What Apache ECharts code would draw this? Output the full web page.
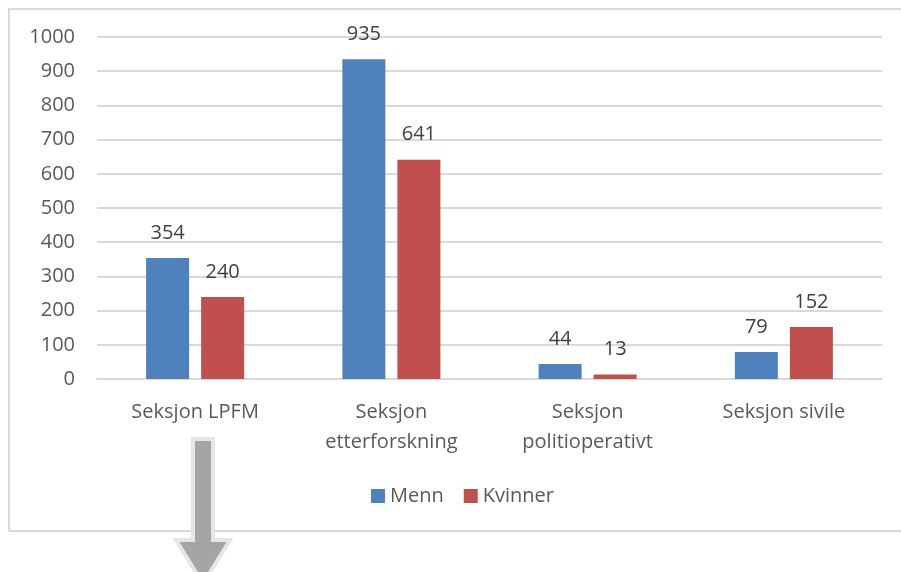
<!DOCTYPE html>
<html>
<head>
<meta charset="utf-8">
<script src="https://cdn.jsdelivr.net/npm/echarts@6/dist/echarts.min.js"></script>
<style>html,body{margin:0;padding:0;background:#fff}#c{width:901px;height:572px}</style>
</head>
<body>
<div id="c"></div>
<script>
const categories = ['Seksjon LPFM', 'Seksjon\netterforskning', 'Seksjon\npolitioperativt', 'Seksjon sivile'];
const menn = [354, 935, 44, 79];
const kvinner = [240, 641, 13, 152];
const seriesNames = ['Menn', 'Kvinner'];

const FONT = '"Open Sans", "Liberation Sans", sans-serif';
const chart = echarts.init(document.getElementById('c'), null, {renderer: 'canvas'});
const labelCfg = {show: true, position: 'top', distance: 14, color: '#404040', fontSize: 20, fontFamily: FONT, lineHeight: 22};
chart.setOption({
  animation: false,
  backgroundColor: '#fff',
  grid: {left: 97, right: 19, top: 37, bottom: 193, containLabel: false},
  legend: {
    data: seriesNames, top: 481, left: 366, itemWidth: 14, itemHeight: 14, itemGap: 20,
    icon: 'rect', textStyle: {color: '#595959', fontSize: 20, fontFamily: FONT, padding: [0, 0, 0, 0]}
  },
  xAxis: {
    type: 'category', data: categories,
    axisLine: {lineStyle: {color: '#d9d9d9', width: 2}},
    axisTick: {show: false},
    axisLabel: {color: '#595959', fontSize: 20, fontFamily: FONT, lineHeight: 30, margin: 18, interval: 0}
  },
  yAxis: {
    type: 'value', min: 0, max: 1000, interval: 100,
    axisLine: {show: false}, axisTick: {show: false},
    axisLabel: {color: '#595959', fontSize: 20, fontFamily: FONT, margin: 22, formatter: v => String(v)},
    splitLine: {lineStyle: {color: '#d9d9d9', width: 2}}
  },
  series: [
    {name: seriesNames[0], type: 'bar', data: menn, barWidth: 43, barGap: '28%', itemStyle: {color: '#4f81bd'}, label: labelCfg},
    {name: seriesNames[1], type: 'bar', data: kvinner, barWidth: 43, itemStyle: {color: '#c0504d'}, label: labelCfg}
  ],
  graphic: [
    {type: 'rect', shape: {x: 9, y: 9, width: 905, height: 522}, style: {fill: 'none', stroke: '#d9d9d9', lineWidth: 2}, silent: true, z: -1},
    {type: 'polygon', shape: {points: [[193, 439], [213, 439], [213, 540], [230, 540], [203, 584], [176, 540], [193, 540]]},
     style: {fill: '#a5a5a5', stroke: '#e6e6e6', lineWidth: 4, lineJoin: 'miter'}, z: 10}
  ]
});
</script>
</body>
</html>
